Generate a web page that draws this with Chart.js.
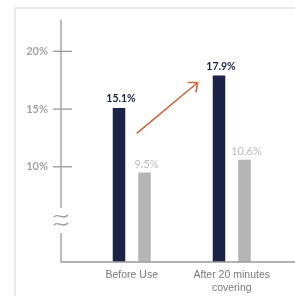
<!DOCTYPE html>
<html>
<head>
<meta charset="utf-8">
<script src="https://cdn.jsdelivr.net/npm/chart.js@4"></script>
<style>
  html, body { margin: 0; padding: 0; background: #fff; }
  #wrap { width: 295px; height: 296px; position: relative; }
</style>
</head>
<body>
<div id="wrap"><canvas id="chart"></canvas></div>
<script>
// data
const categories = [['Before Use'], ['After 20 minutes', 'covering']];
const treated = [15.1, 17.9];
const control = [9.5, 10.6];
const yTicks = [10, 15, 20];
// arrow from (x, y) to (x, y) in data units
const arrowFrom = [1.05, 12.9];
const arrowTo = [1.66, 17.3];

const navy = '#1b2447';
const grey = '#b5b5b5';
const axisGrey = '#9a9a9a';

// frame, axis with break, tick marks, arrow, value labels
const decor = {
  id: 'decor',
  beforeDraw(chart) {
    const c = chart.ctx;
    c.save();
    c.fillStyle = '#fff';
    c.fillRect(0, 0, chart.width, chart.height);
    c.strokeStyle = '#e2e2e2';
    c.lineWidth = 1.5;
    c.beginPath();
    c.moveTo(15, chart.height);
    c.lineTo(15, 8);
    c.lineTo(chart.width, 8);
    c.stroke();
    c.restore();
  },
  afterDatasetsDraw(chart) {
    const c = chart.ctx;
    const a = chart.chartArea;
    const xs = chart.scales.x, ys = chart.scales.y;
    c.save();
    c.strokeStyle = axisGrey;
    c.lineWidth = 1.3;
    // y axis with gap for the break mark
    c.beginPath();
    c.moveTo(a.left, a.top);
    c.lineTo(a.left, 208);
    c.moveTo(a.left, 233);
    c.lineTo(a.left, a.bottom);
    c.lineTo(chart.width, a.bottom);
    c.stroke();
    // tick marks crossing the axis
    yTicks.forEach(v => {
      const y = ys.getPixelForValue(v);
      c.beginPath();
      c.moveTo(a.left - 8, y);
      c.lineTo(a.left + 11, y);
      c.stroke();
    });
    // break mark
    c.lineWidth = 1.4;
    [216, 224].forEach(yy => {
      c.beginPath();
      c.moveTo(a.left - 7, yy + 1);
      c.bezierCurveTo(a.left - 3, yy - 4, a.left + 1, yy + 5, a.left + 7, yy - 1);
      c.stroke();
    });
    // arrow
    const x0 = xs.getPixelForValue(arrowFrom[0]), y0 = ys.getPixelForValue(arrowFrom[1]);
    const x1 = xs.getPixelForValue(arrowTo[0]), y1 = ys.getPixelForValue(arrowTo[1]);
    c.strokeStyle = '#c8683c';
    c.lineWidth = 1.6;
    c.beginPath();
    c.moveTo(x0, y0);
    c.lineTo(x1, y1);
    const ang = Math.atan2(y0 - y1, x0 - x1);
    [ang + 0.7, ang - 0.7].forEach(t => {
      c.moveTo(x1, y1);
      c.lineTo(x1 + 10 * Math.cos(t), y1 + 10 * Math.sin(t));
    });
    c.stroke();
    // value labels
    c.textAlign = 'center';
    c.textBaseline = 'bottom';
    chart.data.datasets.forEach((ds, di) => {
      chart.getDatasetMeta(di).data.forEach((bar, i) => {
        if (di === 0) {
          c.fillStyle = navy;
          c.font = 'bold 10.5px Lato, "Open Sans", sans-serif';
          c.fillText(ds.data[i].y.toFixed(1) + '%', bar.x + 2, bar.y - 4);
        } else {
          c.fillStyle = '#bdbdbd';
          c.font = '11px Lato, "Open Sans", sans-serif';
          c.fillText(ds.data[i].y.toFixed(1) + '%', bar.x + 2, bar.y - 3);
        }
      });
    });
    c.restore();
  }
};

new Chart(document.getElementById('chart'), {
  type: 'bar',
  data: {
    datasets: [
      {
        label: 'Treated',
        data: treated.map((v, i) => ({ x: i + 1, y: v })),
        backgroundColor: navy,
        barPercentage: 0.49,
        categoryPercentage: 0.51
      },
      {
        label: 'Control',
        data: control.map((v, i) => ({ x: i + 1, y: v })),
        backgroundColor: grey,
        barPercentage: 0.49,
        categoryPercentage: 0.51
      }
    ]
  },
  options: {
    responsive: true,
    maintainAspectRatio: false,
    animation: false,
    layout: { padding: { top: 10, left: 0, right: 0, bottom: 0 } },
    plugins: { legend: { display: false }, tooltip: { enabled: false } },
    scales: {
      x: {
        type: 'linear',
        offset: false,
        min: 0.2925,
        max: 2.6325,
        grid: { display: false, drawTicks: false },
        border: { display: false },
        afterBuildTicks: s => { s.ticks = [{ value: 1 }, { value: 2 }]; },
        afterFit: s => { s.height = 34; },
        ticks: {
          padding: 7,
          color: '#7a7a7a',
          font: { family: 'Liberation Sans, Arial, sans-serif', size: 10.5, lineHeight: 1.22 },
          callback: v => categories[v - 1]
        }
      },
      y: {
        min: 1.75,
        max: 22.75,
        grid: { display: false, drawTicks: false },
        border: { display: false },
        afterBuildTicks: s => { s.ticks = yTicks.map(v => ({ value: v })); },
        afterFit: s => { s.width = 61; },
        ticks: {
          padding: 13,
          color: '#a3a3a3',
          font: { family: 'Lato, "Open Sans", sans-serif', size: 11, weight: 'bold' },
          callback: v => v + '%'
        }
      }
    }
  },
  plugins: [decor]
});
</script>
</body>
</html>
